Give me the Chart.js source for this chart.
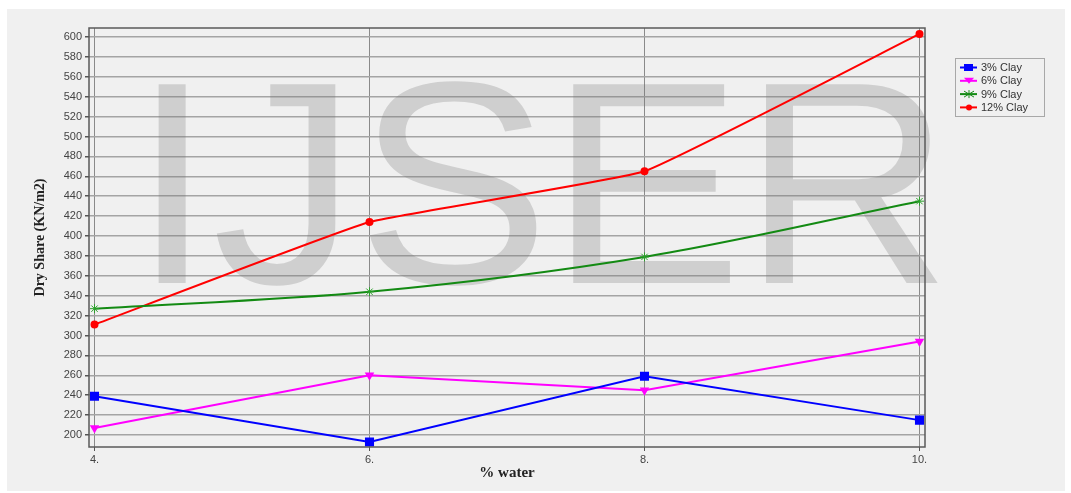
<!DOCTYPE html>
<html>
<head>
<meta charset="utf-8">
<script src="https://cdn.jsdelivr.net/npm/chart.js@4.4.1/dist/chart.umd.min.js"></script>
<style>
  html, body { margin: 0; padding: 0; background: #ffffff; }
  #wrap { width: 1071px; height: 493px; position: relative; }
</style>
</head>
<body>
<div id="wrap"><canvas id="myChart" width="1071" height="493"></canvas></div>
<script>
var xValues = [4, 6, 8, 10];
var clay3 = [239, 193, 259, 215];
var clay6 = [207, 260, 245, 294];
var clay9 = [327, 344, 379, 435];
var clay12 = [311, 414, 465, 603];
var seriesNames = ["3% Clay", "6% Clay", "9% Clay", "12% Clay"];
var lineColors = ["#0000ff", "#ff00ff", "#138a13", "#ff0000"];

function pts(ys) {
  return ys.map(function (y, i) { return { x: xValues[i], y: y }; });
}

// grey panel, frame, watermark and legend box
var decor = {
  id: "decor",
  beforeDraw: function (chart) {
    var c = chart.ctx;
    c.save();
    c.fillStyle = "#f0f0f0";
    c.fillRect(7, 9, 1058, 482);
    c.restore();
  },
  beforeDatasetsDraw: function (chart) {
    var c = chart.ctx;
    c.save();
    c.font = "289px 'Liberation Sans', Arial, sans-serif";
    c.fillStyle = "rgba(120,120,120,0.27)";
    c.textBaseline = "alphabetic";
    c.fillText("IJSER", 132, 283);
    c.restore();
  },
  afterDraw: function (chart) {
    var a = chart.chartArea, c = chart.ctx;
    c.save();
    c.strokeStyle = "#5a5a5a";
    c.lineWidth = 1.5;
    c.strokeRect(a.left, a.top, a.right - a.left, a.bottom - a.top);

    // legend
    c.fillStyle = "#f0f0f0";
    c.fillRect(955, 58, 89, 58);
    c.strokeStyle = "#a8a8a8";
    c.lineWidth = 1;
    c.strokeRect(955.5, 58.5, 89, 58);
    c.font = "11px 'Liberation Sans', Arial, sans-serif";
    c.textBaseline = "middle";
    chart.data.datasets.forEach(function (ds, i) {
      var y = 67.5 + i * 13.3;
      c.strokeStyle = ds.borderColor;
      c.lineWidth = 2;
      c.beginPath();
      c.moveTo(960, y);
      c.lineTo(977, y);
      c.stroke();
      c.fillStyle = ds.borderColor;
      c.beginPath();
      if (i === 0) {
        c.fillRect(964, y - 3.5, 9, 7);
      } else if (i === 1) {
        c.moveTo(964, y - 3); c.lineTo(974, y - 3); c.lineTo(969, y + 3); c.closePath(); c.fill();
      } else if (i === 2) {
        c.lineWidth = 1;
        c.moveTo(964, y - 3); c.lineTo(974, y + 3);
        c.moveTo(964, y + 3); c.lineTo(974, y - 3);
        c.moveTo(969, y - 4); c.lineTo(969, y + 4);
        c.stroke();
      } else {
        c.arc(969, y, 3, 0, Math.PI * 2); c.fill();
      }
      c.fillStyle = "#333333";
      c.fillText(ds.label, 981, y + 0.5);
    });
    c.restore();
  }
};

new Chart("myChart", {
  type: "line",
  data: {
    datasets: [{
      label: seriesNames[0],
      data: pts(clay3),
      borderColor: lineColors[0],
      backgroundColor: lineColors[0],
      borderWidth: 2,
      pointStyle: "rect",
      pointRadius: 5,
      tension: 0
    }, {
      label: seriesNames[1],
      data: pts(clay6),
      borderColor: lineColors[1],
      backgroundColor: lineColors[1],
      borderWidth: 2,
      pointStyle: "triangle",
      pointRotation: 180,
      pointRadius: 3.5,
      tension: 0
    }, {
      label: seriesNames[2],
      data: pts(clay9),
      borderColor: lineColors[2],
      backgroundColor: lineColors[2],
      borderWidth: 2,
      pointStyle: "star",
      pointRadius: 4.5,
      pointBorderWidth: 1,
      pointBorderColor: "#2aa02a",
      cubicInterpolationMode: "monotone"
    }, {
      label: seriesNames[3],
      data: pts(clay12),
      borderColor: lineColors[3],
      backgroundColor: lineColors[3],
      borderWidth: 2,
      pointStyle: "circle",
      pointRadius: 3,
      tension: 0.1
    }]
  },
  options: {
    responsive: false,
    animation: false,
    layout: { padding: { left: 0, right: 146, top: 28, bottom: 0 } },
    plugins: {
      legend: { display: false },
      tooltip: { enabled: false }
    },
    scales: {
      x: {
        type: "linear",
        min: 3.96,
        max: 10.04,
        afterFit: function (s) { s.height = 46; },
        border: { display: false },
        grid: { color: "#8a8a8a", lineWidth: 1, tickLength: 4, tickColor: "#555" },
        ticks: {
          stepSize: 2,
          includeBounds: false,
          padding: 2,
          color: "#444",
          font: { family: "'Liberation Sans', Arial, sans-serif", size: 11 },
          maxRotation: 0,
          callback: function (v) { return v + "."; }
        },
        title: {
          display: true,
          text: "% water",
          color: "#222",
          font: { family: "'Liberation Serif', 'Times New Roman', serif", size: 15, weight: "bold" },
          padding: { top: 0, bottom: 11 }
        }
      },
      y: {
        min: 188,
        max: 609,
        afterFit: function (s) { s.width = 89; },
        border: { display: false },
        grid: { color: "#a4a4a4", lineWidth: 1.5, tickLength: 4, tickColor: "#555" },
        ticks: {
          stepSize: 20,
          includeBounds: false,
          padding: 3,
          color: "#444",
          font: { family: "'Liberation Sans', Arial, sans-serif", size: 11 }
        },
        title: {
          display: true,
          text: "Dry Share (KN/m2)",
          color: "#222",
          font: { family: "'Liberation Serif', 'Times New Roman', serif", size: 14, weight: "bold" },
          padding: { top: 32, bottom: 0 }
        }
      }
    }
  },
  plugins: [decor]
});
</script>
</body>
</html>
